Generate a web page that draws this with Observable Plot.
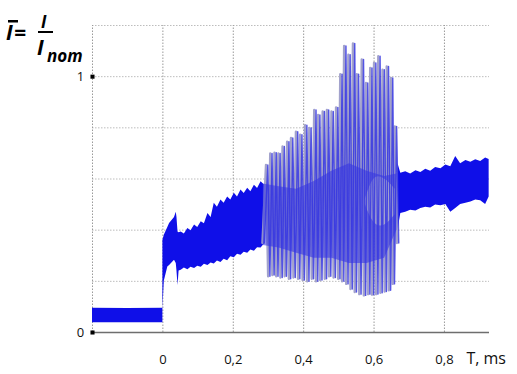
<!DOCTYPE html>
<html><head><meta charset="utf-8">
<script src="https://cdn.jsdelivr.net/npm/d3@7"></script>
<script src="https://cdn.jsdelivr.net/npm/@observablehq/plot@0.6"></script>
<style>
body{margin:0;background:#fff;}
#wrap{position:relative;width:517px;height:374px;overflow:hidden;}
#title{position:absolute;left:0;top:0;}
</style></head><body>
<div id="wrap"><div id="chart"></div>
<svg id="title" width="100" height="70" font-family="Open Sans, sans-serif" font-weight="bold" font-style="italic" fill="#000">
  <text x="6" y="40" font-size="21">I</text>
  <rect x="8" y="20" width="10" height="2.5" fill="#000"></rect>
  <text x="14" y="40" font-size="21">=</text>
  <text x="41" y="28" font-size="17">I</text>
  <rect x="38" y="31" width="15" height="2" fill="#000"></rect>
  <text x="37" y="55" font-size="21">I</text>
  <text x="47" y="62" font-size="17">nom</text>
</svg>
</div>
<script>
// axis / grid values
const xTicks = [0, 0.2, 0.4, 0.6, 0.8];
const xTickLabels = ["0", "0,2", "0,4", "0,6", "0,8"];
const xGrid = [-0.2, 0, 0.2, 0.4, 0.6, 0.8];
const yGrid = [0.2, 0.4, 0.6, 0.8, 1.0, 1.2];
const yTicks = [0, 1];
const yTickLabels = ["0", "1"];

// dense band segments (envelope of fast oscillation), T in ms, I/Inom
const preT  = [-0.2, -0.1, 0.0];
const preLo = [0.038, 0.038, 0.038];
const preHi = [0.095, 0.094, 0.095];

const startT  = [0.0, 0.004, 0.014, 0.019, 0.033, 0.038, 0.040, 0.043, 0.046,
  0.052, 0.061, 0.071, 0.080, 0.090, 0.099, 0.109, 0.118, 0.128, 0.137, 0.146, 0.155, 0.165, 0.174, 0.184, 0.193, 0.203, 0.212, 0.222, 0.231, 0.241, 0.250, 0.260, 0.269, 0.279, 0.288];
const startLo = [0.09, 0.20, 0.256, 0.262, 0.282, 0.27, 0.24, 0.184, 0.24,
  0.243, 0.252, 0.245, 0.255, 0.25, 0.259, 0.255, 0.267, 0.262, 0.272, 0.268, 0.279, 0.274, 0.286, 0.28, 0.296, 0.292, 0.306, 0.302, 0.314, 0.31, 0.322, 0.318, 0.331, 0.33, 0.345];
const startHi = [0.36, 0.38, 0.41, 0.426, 0.45, 0.47, 0.45, 0.393, 0.39,
  0.393, 0.385, 0.407, 0.398, 0.42, 0.41, 0.433, 0.425, 0.465, 0.45, 0.505, 0.49, 0.518, 0.505, 0.53, 0.518, 0.544, 0.53, 0.557, 0.543, 0.564, 0.55, 0.576, 0.563, 0.589, 0.578];

const endT  = [0.668, 0.676, 0.690, 0.704, 0.719, 0.733, 0.747, 0.761, 0.775, 0.790, 0.804, 0.818, 0.832, 0.846, 0.861, 0.875, 0.889, 0.903, 0.917, 0.927];
const endLo = [0.40, 0.465, 0.47, 0.478, 0.475, 0.485, 0.49, 0.487, 0.498, 0.495, 0.50, 0.47, 0.485, 0.50, 0.505, 0.51, 0.518, 0.515, 0.50, 0.53];
const endHi = [0.66, 0.622, 0.628, 0.62, 0.632, 0.625, 0.638, 0.63, 0.645, 0.64, 0.655, 0.648, 0.688, 0.66, 0.672, 0.665, 0.675, 0.668, 0.682, 0.676];

// inner oscillation mass inside the unstable region
const innerT  = [0.285, 0.33, 0.38, 0.43, 0.48, 0.53, 0.58, 0.63, 0.665];
const innerLo = [0.34, 0.33, 0.31, 0.29, 0.29, 0.27, 0.27, 0.29, 0.40];
const innerHi = [0.58, 0.57, 0.56, 0.59, 0.63, 0.66, 0.63, 0.61, 0.62];

const blobT  = [0.575, 0.60, 0.63, 0.66];
const blobLo = [0.50, 0.43, 0.42, 0.46];
const blobHi = [0.52, 0.60, 0.60, 0.56];

// large oscillation peaks and troughs
const peakT = [0.293,0.305,0.317,0.328,0.340,0.353,0.364,0.378,0.390,0.404,0.416,0.430,0.441,0.454,0.466,0.479,0.492,0.504,0.515,0.527,0.540,0.551,0.565,0.577,0.589,0.600,0.612,0.624,0.636,0.648,0.659];
const peakV = [0.655,0.70,0.703,0.70,0.727,0.746,0.76,0.785,0.773,0.81,0.80,0.87,0.85,0.864,0.87,0.864,0.88,1.01,1.12,1.086,1.13,1.01,1.067,0.975,1.034,1.054,1.08,1.027,1.04,0.995,0.805];
const troughT = [0.299,0.311,0.322,0.334,0.346,0.358,0.371,0.384,0.397,0.410,0.423,0.435,0.447,0.460,0.472,0.485,0.498,0.509,0.521,0.533,0.545,0.558,0.571,0.583,0.594,0.606,0.618,0.630,0.642,0.653,0.665];
const troughV = [0.22,0.225,0.22,0.215,0.22,0.21,0.215,0.21,0.205,0.20,0.21,0.20,0.205,0.21,0.22,0.215,0.21,0.20,0.19,0.17,0.158,0.15,0.145,0.15,0.148,0.15,0.155,0.16,0.165,0.19,0.35];

const band = (seg, T, L, H) => T.map((t, i) => ({seg, t, lo: L[i], hi: H[i]}));
const bandData = [...band("a", preT, preLo, preHi), ...band("b", startT, startLo, startHi), ...band("c", endT, endLo, endHi)];
const innerData = band("i", innerT, innerLo, innerHi);
const blobData = band("g", blobT, blobLo, blobHi);
const zig = [{t: 0.283, v: 0.35}];
peakT.forEach((t, i) => { zig.push({t, v: peakV[i]}); zig.push({t: troughT[i], v: troughV[i]}); });

const BLUE = "#0f0fe8";
const chart = Plot.plot({
  width: 517, height: 374,
  marginLeft: 92, marginRight: 28, marginTop: 25, marginBottom: 42,
  x: {domain: [-0.2, 0.928], axis: null},
  y: {domain: [0, 1.2], axis: null},
  style: {fontFamily: "Open Sans, sans-serif", background: "#fff"},
  marks: [
    Plot.ruleY(yGrid, {stroke: "#bdbdbd", strokeDasharray: "1.5,1.5", strokeWidth: 1}),
    Plot.ruleX(xGrid, {y1: 0, y2: 1.2, stroke: "#9a9a9a", strokeDasharray: "1.5,1.5", strokeWidth: 1}),
    Plot.ruleY([0], {stroke: "#6e6e6e", strokeWidth: 1.5}),
    Plot.areaY(bandData, {x: "t", y1: "lo", y2: "hi", z: "seg", fill: BLUE, curve: "linear"}),
    Plot.line(zig, {x: "t", y: "v", stroke: "#a2a2cc", strokeWidth: 2.4}),
    Plot.areaY(innerData, {x: "t", y1: "lo", y2: "hi", fill: "#3030e0", fillOpacity: 0.55}),
    Plot.areaY(blobData, {x: "t", y1: "lo", y2: "hi", fill: "#a8a8cf", fillOpacity: 0.9, curve: "natural"}),
    Plot.line(zig, {x: "t", y: "v", stroke: "#3535e0", strokeWidth: 1.4, strokeOpacity: 0.85, dx: 1.8}),
    Plot.dot(yTicks, {x: -0.2, y: d => d, symbol: "square", r: 2.3, fill: "#000"}),
    Plot.text(yTicks, {x: -0.2, y: d => d, text: (d, i) => yTickLabels[i], dx: -12, fontSize: 13, fill: "#111"}),
    Plot.text(xTicks, {x: d => d, y: 0, text: (d, i) => xTickLabels[i], dy: 27, fontSize: 13, fill: "#111"}),
    Plot.text(["T, ms"], {x: 0.8, y: 0, dx: 22, dy: 26, textAnchor: "start", fontSize: 16, fill: "#111"})
  ]
});
document.getElementById("chart").appendChild(chart);
</script>
</body></html>
